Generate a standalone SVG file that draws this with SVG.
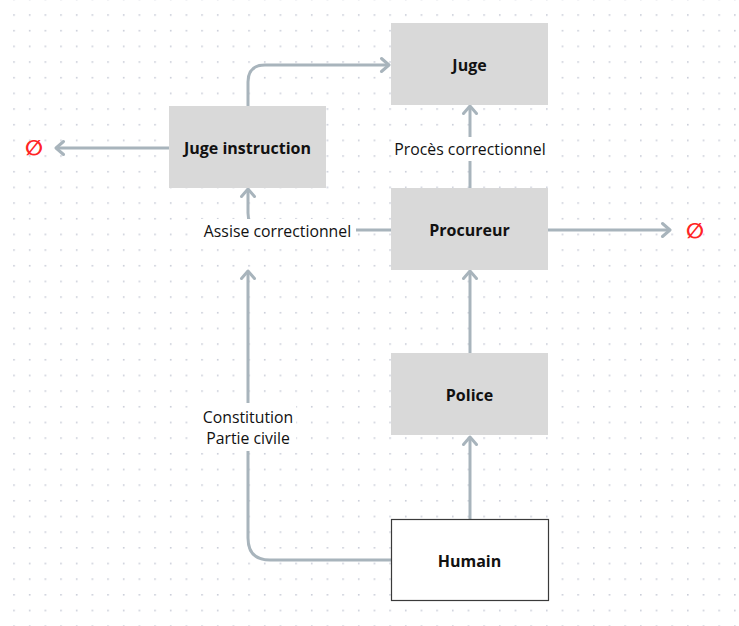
<svg xmlns="http://www.w3.org/2000/svg" width="739" height="626" viewBox="0 0 739 626">
  <defs>
    <pattern id="dots" patternUnits="userSpaceOnUse" x="13.2" y="14.2" width="15.67" height="15.67">
      <rect x="0" y="0" width="1.6" height="1.6" fill="#c9cdd8"/>
    </pattern>
    <marker id="arr" markerUnits="userSpaceOnUse" viewBox="-12 -10 14 20" refX="0" refY="0" markerWidth="14" markerHeight="20" orient="auto">
      <path d="M-7.5,-6.5 L0,0 L-7.5,6.5" fill="none" stroke="#a8b4bc" stroke-width="3" stroke-linecap="round" stroke-linejoin="round"/>
    </marker>
  </defs>
  <style>
    .box { fill: #d9d9d9; }
    .white { fill: #ffffff; stroke: #3a3a3a; stroke-width: 1.2; }
    .nlabel { font-family: "Open Sans", "Noto Sans", sans-serif; font-weight: bold; font-size: 16px; fill: #111111; text-anchor: middle; dominant-baseline: central; }
    .elabel { font-family: "Open Sans", "Noto Sans", sans-serif; font-size: 15.8px; fill: #111111; text-anchor: middle; dominant-baseline: central; }
    .edge { fill: none; stroke: #a8b4bc; stroke-width: 3; marker-end: url(#arr); }
    .lbg { fill: #ffffff; }
    .empty { font-family: "DejaVu Sans", sans-serif; font-weight: bold; font-size: 21px; fill: #ff2424; text-anchor: middle; dominant-baseline: central; }
  </style>
  <rect width="739" height="626" fill="#ffffff"/>
  <rect width="739" height="626" fill="url(#dots)"/>

  <g id="connectors">
    <path class="edge" d="M248 106 V82 Q248 65 265 65 H389"/>
    <path class="edge" d="M169 148 H56"/>
    <path class="edge" d="M470 188 V106"/>
    <path class="edge" d="M391 230 H265 Q248 230 248 213 V189"/>
    <path class="edge" d="M548 230 H670"/>
    <path class="edge" d="M470 353 V271"/>
    <path class="edge" d="M470 519 V437"/>
    <path class="edge" d="M391 560 H270 Q248 560 248 538 V271"/>
    <g id="edge-labels">
      <rect class="lbg" x="392" y="137" width="156" height="24"/>
      <text class="elabel" x="470" y="149">Procès correctionnel</text>
      <rect class="lbg" x="200" y="219" width="156" height="24"/>
      <text class="elabel" x="277.5" y="231">Assise correctionnel</text>
      <rect class="lbg" x="201" y="403" width="95" height="48"/>
      <text class="elabel" x="248" y="417">Constitution</text>
      <text class="elabel" x="248" y="438">Partie civile</text>
    </g>
  </g>

  <g id="juge">
    <rect class="box" x="391" y="23" width="157" height="82"/>
    <text class="nlabel" x="469.5" y="65">Juge</text>
  </g>
  <g id="juge-instruction">
    <rect class="box" x="169" y="106" width="157" height="82"/>
    <text class="nlabel" x="247.5" y="148">Juge instruction</text>
  </g>
  <g id="procureur">
    <rect class="box" x="391" y="188" width="157" height="82"/>
    <text class="nlabel" x="469.5" y="230">Procureur</text>
  </g>
  <g id="police">
    <rect class="box" x="391" y="353" width="157" height="82"/>
    <text class="nlabel" x="469.5" y="395">Police</text>
  </g>
  <g id="humain">
    <rect class="white" x="391.5" y="519.5" width="157" height="81"/>
    <text class="nlabel" x="469.5" y="561">Humain</text>
  </g>
  <g id="empty-left">
    <text class="empty" x="34" y="148">∅</text>
  </g>
  <g id="empty-right">
    <text class="empty" x="695" y="231">∅</text>
  </g>
</svg>
